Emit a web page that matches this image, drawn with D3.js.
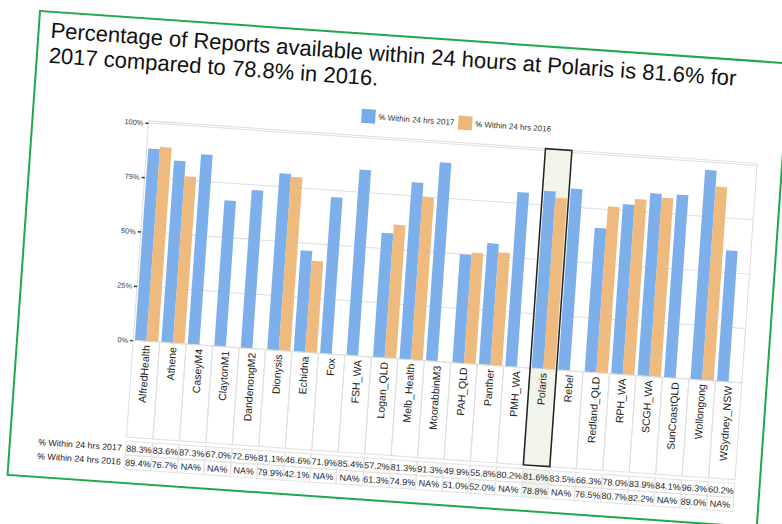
<!DOCTYPE html>
<html>
<head>
<meta charset="utf-8">
<script src="https://cdn.jsdelivr.net/npm/d3@7"></script>
<style>
  body { margin: 0; background: #fff; }
  svg { display: block; font-family: "Liberation Sans", Arial, sans-serif; }
</style>
</head>
<body>
<svg width="782" height="524"></svg>
<script>
// data (null = NA)
const sites = ['AlfredHealth', 'Athene', 'CaseyM4', 'ClaytonM1', 'DandenongM2', 'Dionysis', 'Echidna', 'Fox',
  'FSH_WA', 'Logan_QLD', 'Melb_Health', 'MoorabbinM3', 'PAH_QLD', 'Panther', 'PMH_WA', 'Polaris', 'Rebel',
  'Redland_QLD', 'RPH_WA', 'SCGH_WA', 'SunCoastQLD', 'Wollongong', 'WSydney_NSW'];
const pct2017 = [88.3, 83.6, 87.3, 67.0, 72.6, 81.1, 46.6, 71.9, 85.4, 57.2, 81.3, 91.3, 49.9, 55.8, 80.2, 81.6,
  83.5, 66.3, 78.0, 83.9, 84.1, 96.3, 60.2];
const pct2016 = [89.4, 76.7, null, null, null, 79.9, 42.1, null, null, 61.3, 74.9, null, 51.0, 52.0, null, 78.8,
  null, 76.5, 80.7, 82.2, null, 89.0, null];
const seriesNames = ['% Within 24 hrs 2017', '% Within 24 hrs 2016'];
const yTicks = [0, 25, 50, 75, 100];
const highlight = 'Polaris';

const colors = ['#76abe9', '#eeb677'];

const svg = d3.select('svg');

// the whole slide is tilted a few degrees
const g = svg.append('g').attr('transform', 'translate(40,11) rotate(4)');

g.append('rect')
  .attr('width', 751).attr('height', 465)
  .attr('fill', '#fff')
  .attr('stroke', '#1fa94c').attr('stroke-width', 2);

g.append('text').attr('x', 12).attr('y', 26)
  .attr('font-size', 22).attr('fill', '#111')
  .text('Percentage of Reports available within 24 hours at Polaris is 81.6% for');
g.append('text').attr('x', 12).attr('y', 51)
  .attr('font-size', 22).attr('fill', '#111')
  .text('2017 compared to 78.8% in 2016.');

// scales
const x = d3.scaleBand().domain(sites).range([116, 726]);
const xs = d3.scaleBand().domain([0, 1]).range([0, x.bandwidth()]).paddingOuter(0.14);
const y = d3.scaleLinear().domain([0, 100]).range([322, 104]);

// legend
const legend = g.append('g');
const legX = [328, 425];
seriesNames.forEach((name, i) => {
  legend.append('rect').attr('x', legX[i]).attr('y', 75).attr('width', 14).attr('height', 14)
    .attr('fill', colors[i]);
  legend.append('text').attr('x', legX[i] + 17).attr('y', 85)
    .attr('font-size', 8).attr('fill', '#333').text(name);
});

// plot frame + grid
g.append('rect')
  .attr('x', 116).attr('y', y(100) - 2)
  .attr('width', 610).attr('height', y(0) - y(100) + 2)
  .attr('fill', 'none').attr('stroke', '#dcdcdc');

g.append('g').selectAll('line')
  .data(yTicks.slice(1))
  .join('line')
  .attr('x1', 116).attr('x2', 726)
  .attr('y1', d => y(d)).attr('y2', d => y(d))
  .attr('stroke', '#dedede');

// highlighted column (fill)
const hx = x(highlight);
g.append('rect')
  .attr('x', hx).attr('y', y(100) - 2)
  .attr('width', x.bandwidth()).attr('height', 419 - y(100) + 2)
  .attr('fill', '#f1f4ea');

// bars
const bars = g.append('g');
[pct2017, pct2016].forEach((vals, si) => {
  bars.selectAll('.s' + si)
    .data(sites.map((s, i) => ({ site: s, v: vals[i] })).filter(d => d.v != null))
    .join('rect')
    .attr('class', 's' + si)
    .attr('x', d => x(d.site) + xs(si))
    .attr('y', d => y(d.v))
    .attr('width', xs.bandwidth())
    .attr('height', d => y(0) - y(d.v))
    .attr('fill', colors[si])
    .attr('opacity', 0.95);
});

// y axis
const yAxis = g.append('g')
  .attr('transform', 'translate(116,0)')
  .call(d3.axisLeft(y).tickValues(yTicks).tickFormat(d => d + '%').tickSize(3).tickPadding(2));
yAxis.select('.domain').remove();
yAxis.selectAll('line').attr('stroke', '#333').attr('stroke-width', 1.5);
yAxis.selectAll('text').attr('font-size', 7.5).attr('fill', '#444').attr('font-family', 'Liberation Sans, Arial');

// category cells
const cells = g.append('g');
cells.selectAll('rect')
  .data(sites)
  .join('rect')
  .attr('x', d => x(d)).attr('y', 322)
  .attr('width', x.bandwidth()).attr('height', 97)
  .attr('fill', 'none').attr('stroke', '#e0e0e0');
cells.selectAll('text')
  .data(sites)
  .join('text')
  .attr('transform', d => `translate(${x(d) + x.bandwidth() / 2},326) rotate(-90)`)
  .attr('text-anchor', 'end').attr('dy', '0.35em')
  .attr('font-size', 10.5).attr('fill', '#222')
  .text(d => d);

// outline of highlighted column
g.append('rect')
  .attr('x', hx).attr('y', y(100) - 2)
  .attr('width', x.bandwidth()).attr('height', 419 - y(100) + 2)
  .attr('fill', 'none').attr('stroke', '#222').attr('stroke-width', 1.5);

// data table
const rowTop = [423, 437];
[pct2017, pct2016].forEach((vals, si) => {
  const row = g.append('g');
  row.append('text')
    .attr('x', 112).attr('y', rowTop[si] + 10)
    .attr('text-anchor', 'end').attr('font-size', 8.8).attr('fill', '#222')
    .text(seriesNames[si]);
  row.selectAll('rect')
    .data(sites)
    .join('rect')
    .attr('x', d => x(d)).attr('y', rowTop[si])
    .attr('width', x.bandwidth()).attr('height', 14)
    .attr('fill', d => d === highlight ? '#f1f4ea' : 'none')
    .attr('stroke', '#e2e2e2');
  row.selectAll('text.v')
    .data(vals)
    .join('text')
    .attr('class', 'v')
    .attr('x', (d, i) => x(sites[i]) + x.bandwidth() / 2)
    .attr('y', rowTop[si] + 10.5)
    .attr('text-anchor', 'middle').attr('font-size', 9).attr('fill', '#222')
    .text(d => (d == null ? 'NA' : d.toFixed(1)) + '%');
});
</script>
</body>
</html>
